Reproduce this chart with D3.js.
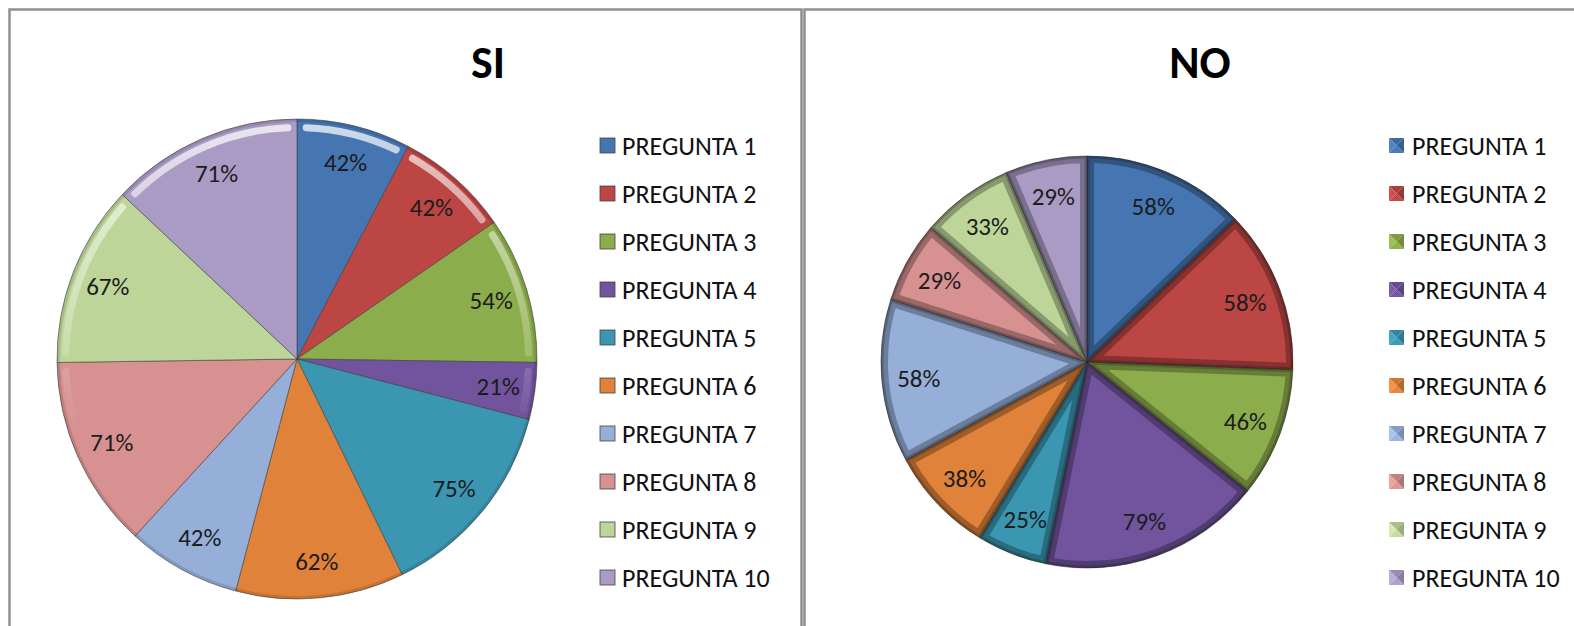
<!DOCTYPE html>
<html>
<head>
<meta charset="utf-8">
<script src="https://cdn.jsdelivr.net/npm/d3@7"></script>
<style>
  body { margin: 0; background: #fff; }
  svg { display: block; }
  text { font-family: Carlito, Calibri, Lato, sans-serif; }
</style>
</head>
<body>
<div id="chart"></div>
<script>
// DATA
var categories = ["PREGUNTA 1", "PREGUNTA 2", "PREGUNTA 3", "PREGUNTA 4", "PREGUNTA 5",
                  "PREGUNTA 6", "PREGUNTA 7", "PREGUNTA 8", "PREGUNTA 9", "PREGUNTA 10"];
var siValues = [42, 42, 54, 21, 75, 62, 42, 71, 67, 71];
var noValues = [58, 58, 46, 79, 25, 38, 58, 29, 33, 29];
var sliceColours = ["#4676b2", "#bb4643", "#8cad4b", "#71549d", "#3a96b1",
                    "#e0823a", "#95afd9", "#d69190", "#bdd598", "#aa9bc5"];

var W = 1574, H = 626;
var svg = d3.select("#chart").append("svg")
  .attr("width", W).attr("height", H);
var defs = svg.append("defs");

svg.append("rect").attr("width", W).attr("height", H).attr("fill", "#fff");

// panel borders
svg.append("rect")
  .attr("x", 9.5).attr("y", 9.5).attr("width", 792).attr("height", 640)
  .attr("fill", "none").attr("stroke", "#8f8f8f").attr("stroke-width", 2.5);
svg.append("rect")
  .attr("x", 804.5).attr("y", 9.5).attr("width", 800).attr("height", 640)
  .attr("fill", "none").attr("stroke", "#8f8f8f").attr("stroke-width", 2.5);

var colour = d3.scaleOrdinal().domain(categories).range(sliceColours);
var pie = d3.pie().sort(null).value(function(d) { return d.v; });

function drawPanel(opts) {
  var data = categories.map(function(c, i) { return {c: c, v: opts.values[i]}; });
  var arcs = pie(data);
  var g = svg.append("g").attr("transform", "translate(" + opts.cx + "," + opts.cy + ")");
  var arc = d3.arc().innerRadius(0).outerRadius(opts.r);
  var labelArc = d3.arc().innerRadius(opts.r - 37).outerRadius(opts.r - 37);

  // title
  svg.append("text")
    .attr("x", opts.titleX).attr("y", 78)
    .attr("text-anchor", "middle")
    .style("font-size", "46px").style("font-weight", "bold")
    .attr("fill", "#000")
    .text(opts.title);

  // slices
  g.selectAll("path.slice")
    .data(arcs).enter()
    .append("path")
    .attr("class", "slice")
    .attr("d", arc)
    .attr("fill", function(d) { return colour(d.data.c); })
    .attr("stroke", "#3b3b3b").attr("stroke-width", 0.8).attr("stroke-opacity", 0.7);

  if (opts.style === "soft") {
    // white glint near the rim, strongest at the top
    var gid = opts.id + "-glint";
    var lg = defs.append("linearGradient").attr("id", gid)
      .attr("gradientUnits", "userSpaceOnUse")
      .attr("x1", 0).attr("y1", -opts.r).attr("x2", 0).attr("y2", opts.r * 0.3);
    lg.append("stop").attr("offset", "0%").attr("stop-color", "#fff").attr("stop-opacity", 0.75);
    lg.append("stop").attr("offset", "100%").attr("stop-color", "#fff").attr("stop-opacity", 0);
    var band = d3.arc().innerRadius(opts.r - 12).outerRadius(opts.r - 5).cornerRadius(3);
    g.selectAll("path.glint")
      .data(arcs).enter()
      .append("path")
      .attr("class", "glint")
      .attr("d", function(d) {
        return band({startAngle: d.startAngle + 0.025, endAngle: d.endAngle - 0.025});
      })
      .attr("fill", "url(#" + gid + ")");
    g.append("circle").attr("r", opts.r - 1.5)
      .attr("fill", "none").attr("stroke", "#000").attr("stroke-opacity", 0.12).attr("stroke-width", 3);
  } else {
    // bevelled slice edges
    arcs.forEach(function(d, i) {
      var cid = opts.id + "-clip-" + i;
      defs.append("clipPath").attr("id", cid)
        .append("path").attr("d", arc(d));
      g.append("path").attr("d", arc(d))
        .attr("clip-path", "url(#" + cid + ")")
        .attr("fill", "none").attr("stroke", "#000").attr("stroke-opacity", 0.28)
        .attr("stroke-width", 14).attr("stroke-linejoin", "round");
      g.append("path").attr("d", arc(d))
        .attr("clip-path", "url(#" + cid + ")")
        .attr("fill", "none").attr("stroke", "#000").attr("stroke-opacity", 0.2)
        .attr("stroke-width", 5);
    });
  }

  // data labels
  g.append("g")
    .selectAll("text")
    .data(arcs).enter()
    .append("text")
    .attr("transform", function(d) { return "translate(" + labelArc.centroid(d) + ")"; })
    .attr("text-anchor", "middle")
    .attr("dy", "0.36em")
    .style("font-size", "25px")
    .attr("fill", "#1c1c1c")
    .text(function(d) { return d.data.v + "%"; });

  // legend
  var leg = svg.append("g").attr("transform", "translate(" + opts.legX + ",0)");
  var rows = leg.selectAll("g.row")
    .data(categories).enter()
    .append("g").attr("class", "row")
    .attr("transform", function(d, i) { return "translate(0," + (146 + i * 48) + ")"; });

  if (opts.style === "soft") {
    rows.append("rect")
      .attr("x", 0).attr("y", -8).attr("width", 15).attr("height", 15)
      .attr("fill", function(d) { return colour(d); })
      .attr("stroke", "#444").attr("stroke-width", 0.8);
  } else {
    // pyramid-like markers
    var s = 15;
    var tris = [
      {p: [[0, 0], [s, 0], [s / 2, s / 2]], k: -0.3},
      {p: [[0, 0], [0, s], [s / 2, s / 2]], k: 0.3},
      {p: [[s, 0], [s, s], [s / 2, s / 2]], k: -0.6},
      {p: [[0, s], [s, s], [s / 2, s / 2]], k: 0.1}
    ];
    rows.each(function(d) {
      var row = d3.select(this).append("g").attr("transform", "translate(0,-8)");
      tris.forEach(function(t) {
        row.append("path")
          .attr("d", "M" + t.p.join("L") + "Z")
          .attr("fill", t.k >= 0 ? d3.color(colour(d)).brighter(t.k) : d3.color(colour(d)).darker(-t.k));
      });
    });
  }
  rows.append("text")
    .attr("x", opts.legText).attr("y", 0).attr("dy", "0.36em")
    .style("font-size", "26px")
    .attr("fill", "#111")
    .text(function(d) { return d; });
}

drawPanel({id: "si", title: "SI", values: siValues, cx: 297, cy: 359, r: 240,
           titleX: 488, legX: 600, legText: 22, style: "soft"});
drawPanel({id: "no", title: "NO", values: noValues, cx: 1087, cy: 362, r: 206,
           titleX: 1200, legX: 1389, legText: 23, style: "bevel"});
</script>
</body>
</html>
